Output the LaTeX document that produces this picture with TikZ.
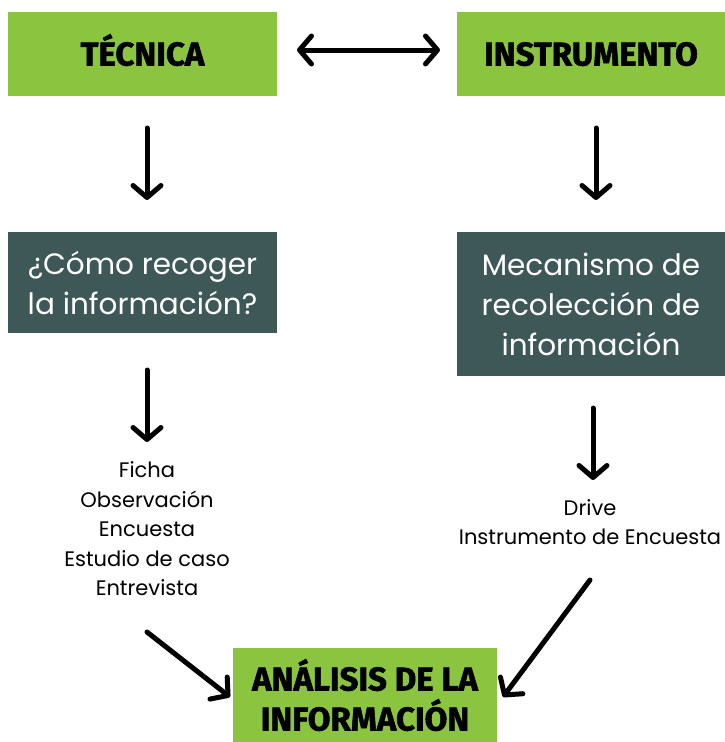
\documentclass[tikz,border=0pt]{standalone}
\usepackage{fontspec}
\setmainfont{Poppins}
\newfontfamily\headfont{Fira Sans}[BoldFeatures={FakeBold=1.6}]
\usetikzlibrary{arrows.meta}
\definecolor{verde}{HTML}{8BC540}
\definecolor{pizarra}{HTML}{3E5858}
\tikzset{
  cajaverde/.style={fill=verde, inner sep=0pt, align=center,
    font=\headfont\bfseries\fontsize{33}{40}\selectfont},
  titulo/.style={text height=23pt, text depth=0pt},
  cajaoscura/.style={fill=pizarra, text=white, inner sep=0pt, align=center,
    font=\fontsize{29.5}{40}\selectfont},
  lista/.style={inner sep=0pt, align=center, font=\fontsize{21}{29.5}\selectfont},
  flecha/.style={line width=5pt, line cap=round, -{Straight Barb[length=12pt,width=28pt,line cap=round,line join=round]}},
  dobleflecha/.style={line width=5pt, line cap=round,
    {Straight Barb[length=12pt,width=28pt,line cap=round,line join=round]}-{Straight Barb[length=12pt,width=28pt,line cap=round,line join=round]}}
}
\begin{document}
\begin{tikzpicture}[x=1pt,y=-1pt]
    \useasboundingbox (0,0) rectangle (725,742);
    % cajas
    \node[cajaverde, titulo, minimum width=269pt, minimum height=84pt] (tecnica) at (142.5,54) {TÉCNICA};
    \node[cajaverde, titulo, minimum width=268pt, minimum height=84pt] (instrumento) at (591,54) {INSTRUMENTO};
    \node[cajaoscura, minimum width=269pt, minimum height=101pt] (como) at (142.5,282.5) {¿Cómo recoger\\la información?};
    \node[cajaoscura, minimum width=268pt, minimum height=144pt] (mecanismo) at (591,304) {Mecanismo de\\recolección de\\información};
    \node[lista] (tecnicas) at (147,529) {Ficha\\Observación\\Encuesta\\Estudio de caso\\Entrevista};
    \node[lista] (medios) at (590,522) {Drive\\Instrumento de Encuesta};
    \node[cajaverde, minimum width=264pt, minimum height=95pt] (analisis) at (365,695) {ANÁLISIS DE LA\\INFORMACIÓN};
    % puntos de las flechas
    \coordinate (D1) at (297,50);
    \coordinate (D2) at (440,50);
    \coordinate (T1) at (147,128);
    \coordinate (T2) at (147,200);
    \coordinate (I1) at (596,128);
    \coordinate (I2) at (596,200);
    \coordinate (C1) at (147,370);
    \coordinate (C2) at (147,442);
    \coordinate (M1) at (593,408);
    \coordinate (M2) at (593,480);
    \coordinate (L1) at (147,632);
    \coordinate (L2) at (230,697);
    \coordinate (R1) at (590,580);
    \coordinate (R2) at (503,697);
    % flechas
    \draw[dobleflecha] (D1) -- (D2);
    \draw[flecha] (T1) -- (T2);
    \draw[flecha] (I1) -- (I2);
    \draw[flecha] (C1) -- (C2);
    \draw[flecha] (M1) -- (M2);
    \draw[flecha] (L1) -- (L2);
    \draw[flecha] (R1) -- (R2);
\end{tikzpicture}
\end{document}
